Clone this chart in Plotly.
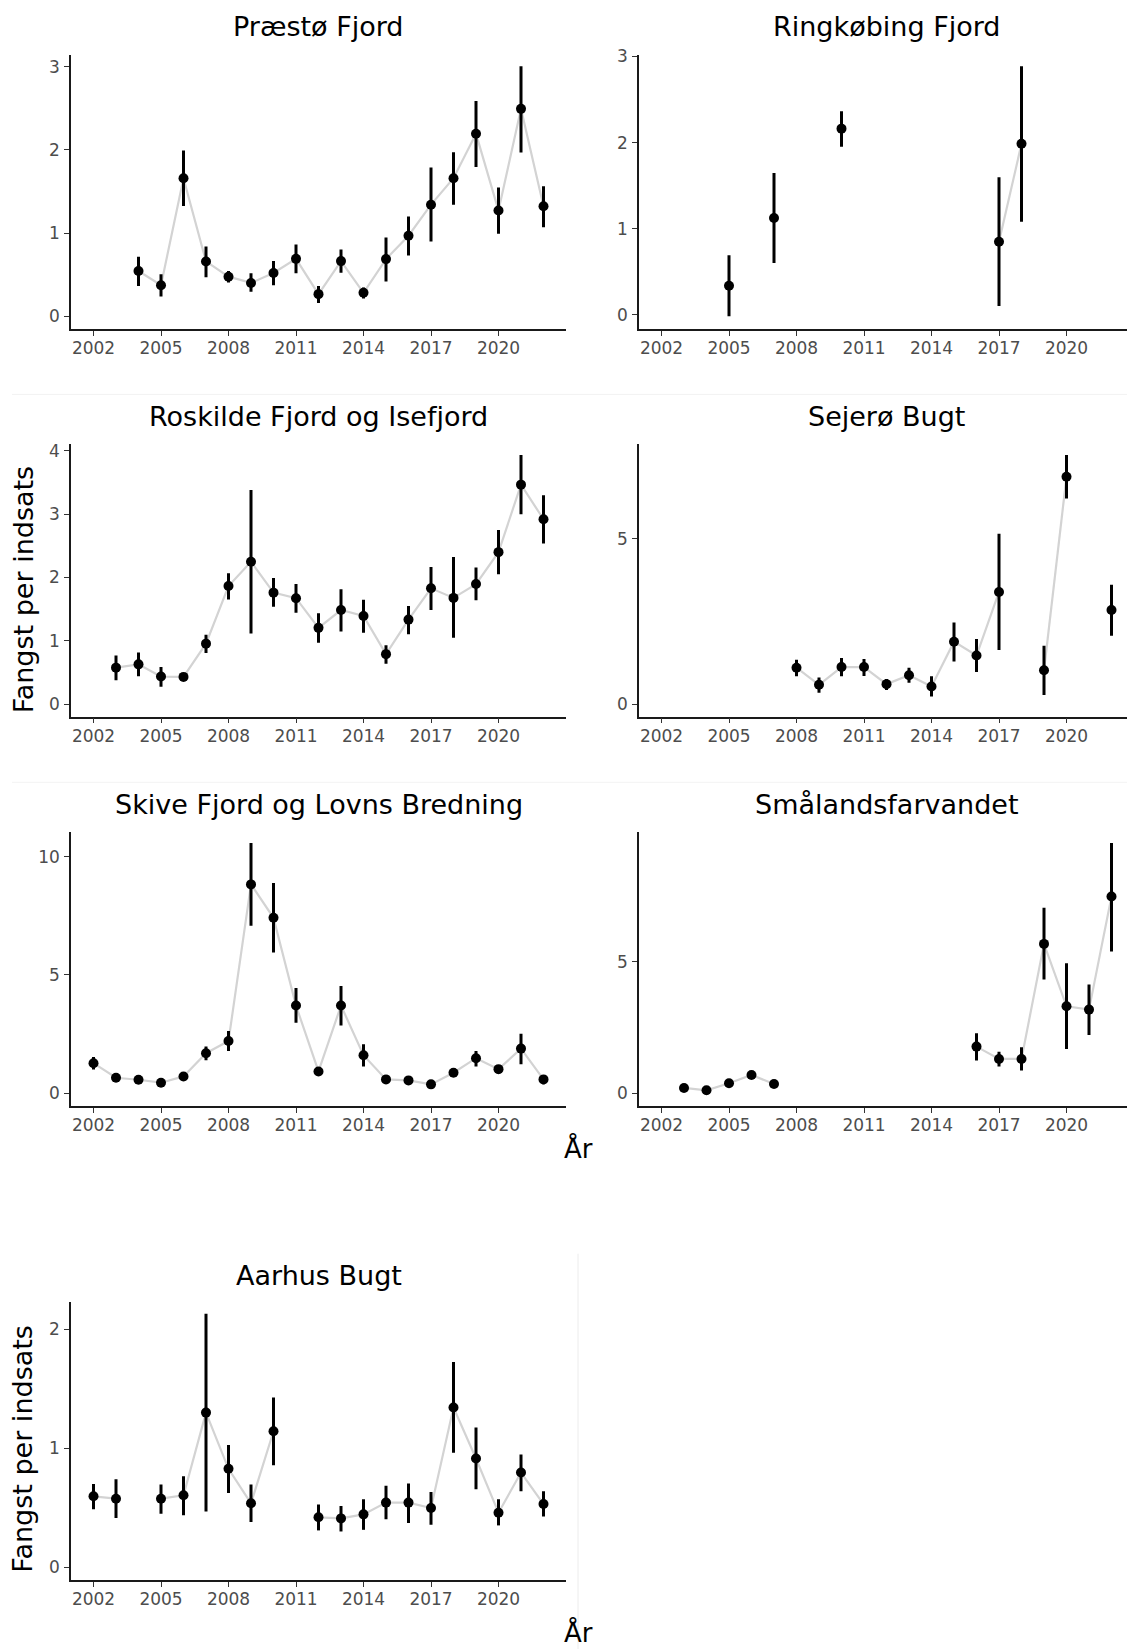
import plotly.graph_objects as go

# ---------------- data ----------------
titles = ["Præstø Fjord", "Ringkøbing Fjord", "Roskilde Fjord og Isefjord",
          "Sejerø Bugt", "Skive Fjord og Lovns Bredning", "Smålandsfarvandet", "Aarhus Bugt"]

praesto_years = [2004, 2005, 2006, 2007, 2008, 2009, 2010, 2011, 2012, 2013, 2014, 2015, 2016, 2017, 2018, 2019, 2020, 2021, 2022]
praesto_val = [0.544, 0.373, 1.659, 0.659, 0.476, 0.401, 0.520, 0.690, 0.266, 0.663, 0.282, 0.687, 0.968, 1.341, 1.659, 2.194, 1.270, 2.492, 1.321]
praesto_lo = [0.365, 0.238, 1.325, 0.468, 0.405, 0.294, 0.373, 0.516, 0.159, 0.524, 0.214, 0.417, 0.730, 0.897, 1.341, 1.794, 0.992, 1.968, 1.071]
praesto_hi = [0.714, 0.504, 1.992, 0.837, 0.544, 0.516, 0.663, 0.861, 0.365, 0.802, 0.345, 0.948, 1.198, 1.786, 1.972, 2.587, 1.548, 3.004, 1.563]

ringk_years = [2005, 2007, 2010, 2017, 2018]
ringk_val = [0.339, 1.125, 2.162, 0.850, 1.986]
ringk_lo = [-0.015, 0.602, 1.952, 0.103, 1.083]
ringk_hi = [0.694, 1.647, 2.364, 1.597, 2.886]

roskilde_years = [2003, 2004, 2005, 2006, 2007, 2008, 2009, 2010, 2011, 2012, 2013, 2014, 2015, 2016, 2017, 2018, 2019, 2020, 2021, 2022]
roskilde_val = [0.577, 0.629, 0.436, 0.431, 0.956, 1.865, 2.249, 1.761, 1.673, 1.205, 1.486, 1.392, 0.790, 1.335, 1.829, 1.678, 1.896, 2.400, 3.465, 2.919]
roskilde_lo = [0.379, 0.442, 0.275, 0.369, 0.810, 1.652, 1.117, 1.538, 1.444, 0.971, 1.148, 1.127, 0.639, 1.106, 1.486, 1.049, 1.642, 2.052, 2.997, 2.535]
roskilde_hi = [0.769, 0.816, 0.587, 0.483, 1.096, 2.068, 3.382, 1.990, 1.896, 1.434, 1.813, 1.647, 0.930, 1.548, 2.166, 2.322, 2.156, 2.748, 3.932, 3.299]

sejero_years = [2008, 2009, 2010, 2011, 2012, 2013, 2014, 2015, 2016, 2017, 2019, 2020, 2022]
sejero_val = [1.103, 0.586, 1.123, 1.123, 0.606, 0.875, 0.537, 1.889, 1.471, 3.390, 1.024, 6.869, 2.843]
sejero_lo = [0.845, 0.348, 0.845, 0.855, 0.427, 0.646, 0.229, 1.292, 0.974, 1.640, 0.278, 6.213, 2.068]
sejero_hi = [1.342, 0.805, 1.392, 1.362, 0.765, 1.103, 0.845, 2.465, 1.968, 5.149, 1.769, 7.525, 3.608]

skive_years = [2002, 2003, 2004, 2005, 2006, 2007, 2008, 2009, 2010, 2011, 2012, 2013, 2014, 2015, 2016, 2017, 2018, 2019, 2020, 2021, 2022]
skive_val = [1.273, 0.657, 0.573, 0.448, 0.713, 1.692, 2.210, 8.825, 7.413, 3.706, 0.923, 3.706, 1.608, 0.587, 0.545, 0.378, 0.867, 1.483, 1.021, 1.888, 0.587]
skive_lo = [1.007, 0.560, 0.420, 0.380, 0.540, 1.399, 1.790, 7.077, 5.944, 2.979, 0.850, 2.867, 1.133, 0.500, 0.470, 0.320, 0.750, 1.133, 0.920, 1.231, 0.378]
skive_hi = [1.538, 0.770, 0.750, 0.520, 0.900, 1.972, 2.629, 10.573, 8.881, 4.448, 1.000, 4.531, 2.070, 0.680, 0.630, 0.450, 0.980, 1.790, 1.120, 2.517, 0.769]

smaal_years = [2003, 2004, 2005, 2006, 2007, 2016, 2017, 2018, 2019, 2020, 2021, 2022]
smaal_val = [0.203, 0.114, 0.380, 0.696, 0.354, 1.772, 1.304, 1.304, 5.671, 3.304, 3.177, 7.468]
smaal_lo = [0.150, 0.070, 0.320, 0.620, 0.300, 1.241, 1.013, 0.861, 4.316, 1.684, 2.215, 5.380]
smaal_hi = [0.260, 0.160, 0.440, 0.770, 0.410, 2.278, 1.582, 1.747, 7.038, 4.937, 4.127, 9.500]

aarhus_years = [2002, 2003, 2005, 2006, 2007, 2008, 2009, 2010, 2012, 2013, 2014, 2015, 2016, 2017, 2018, 2019, 2020, 2021, 2022]
aarhus_val = [0.597, 0.577, 0.577, 0.606, 1.301, 0.828, 0.538, 1.144, 0.420, 0.411, 0.445, 0.544, 0.544, 0.499, 1.344, 0.915, 0.459, 0.797, 0.532]
aarhus_lo = [0.487, 0.414, 0.451, 0.437, 0.470, 0.625, 0.380, 0.859, 0.310, 0.301, 0.315, 0.403, 0.372, 0.358, 0.963, 0.656, 0.352, 0.639, 0.428]
aarhus_hi = [0.701, 0.741, 0.696, 0.766, 2.132, 1.028, 0.696, 1.428, 0.527, 0.515, 0.572, 0.685, 0.704, 0.634, 1.727, 1.175, 0.572, 0.949, 0.639]

x_tick_vals = [2002, 2005, 2008, 2011, 2014, 2017, 2020]
x_tick_text = ["2002", "2005", "2008", "2011", "2014", "2017", "2020"]
y_dticks = [1, 1, 1, 5, 5, 5, 1]
y_label = "Fangst per indsats"
x_label = "År"

panels = [
    (praesto_years, praesto_val, praesto_lo, praesto_hi),
    (ringk_years, ringk_val, ringk_lo, ringk_hi),
    (roskilde_years, roskilde_val, roskilde_lo, roskilde_hi),
    (sejero_years, sejero_val, sejero_lo, sejero_hi),
    (skive_years, skive_val, skive_lo, skive_hi),
    (smaal_years, smaal_val, smaal_lo, smaal_hi),
    (aarhus_years, aarhus_val, aarhus_lo, aarhus_hi),
]

# ---------------- layout geometry (page pixels) ----------------
W, H = 1135, 1649
DX, DY = 8, 12.5   # page offset of the plot div
col_px = [(71, 566), (639, 1134)]
row_px = [(50.7, 326), (441.7, 716), (831.7, 1107.3), (1305, 1584)]
title_y = [22, 414, 804, 1278]

def px_x(v):
    return (v - DX) / W

def px_y(v):
    return 1 - (v - DY) / H

FONT = "DejaVu Sans"
fig = go.Figure()
layout = dict(
    width=W, height=H, margin=dict(l=0, r=0, t=0, b=0),
    paper_bgcolor="white", plot_bgcolor="white", showlegend=False,
    font=dict(family=FONT),
)
annotations = []
shapes = []

for i, (yrs, val, lo, hi) in enumerate(panels):
    r, c = divmod(i, 2)
    k = "" if i == 0 else str(i + 1)
    xa, ya = "x" + k, "y" + k

    # gray connecting line, broken where years are missing
    lx, ly = [], []
    for j, (yy, vv) in enumerate(zip(yrs, val)):
        if j > 0 and yy - yrs[j - 1] > 1:
            lx.append(None)
            ly.append(None)
        lx.append(yy)
        ly.append(vv)
    fig.add_trace(go.Scatter(x=lx, y=ly, mode="lines", xaxis=xa, yaxis=ya,
                             line=dict(color="#d3d3d3", width=2.2), hoverinfo="skip",
                             connectgaps=False))
    fig.add_trace(go.Scatter(
        x=yrs, y=val, mode="markers", xaxis=xa, yaxis=ya,
        marker=dict(color="black", size=10),
        error_y=dict(type="data", symmetric=False,
                     array=[h - v for h, v in zip(hi, val)],
                     arrayminus=[v - l for v, l in zip(val, lo)],
                     color="black", thickness=3, width=0)))

    ymin = min(0, min(lo))
    ymax = max(hi)
    pad = 0.045 * (ymax - ymin)
    x0, x1 = col_px[c]
    top, bot = row_px[r]
    axis_common = dict(showline=True, linecolor="#1a1a1a", linewidth=1.6,
                       ticks="outside", ticklen=5, tickwidth=1.2, tickcolor="#333333",
                       tickfont=dict(family=FONT, size=17, color="#4d4d4d"),
                       showgrid=False, zeroline=False)
    layout["xaxis" + k] = dict(axis_common, domain=[px_x(x0), px_x(x1)], anchor=ya,
                               range=[2001, 2023], tickvals=x_tick_vals, ticktext=x_tick_text,
                               ticklabelstandoff=-2)
    layout["yaxis" + k] = dict(axis_common, domain=[px_y(bot), px_y(top)], anchor=xa,
                               range=[ymin - 0.05 * (ymax - ymin), ymax + pad],
                               tick0=0, dtick=y_dticks[i], ticklabelstandoff=1)
    annotations.append(dict(text=titles[i], x=px_x((x0 + x1) / 2), y=px_y(title_y[r]),
                            xref="paper", yref="paper", xanchor="center", yanchor="middle",
                            showarrow=False, font=dict(family=FONT, size=27, color="black")))

# axis titles
for yc in [588, 1452]:
    annotations.append(dict(text=y_label, x=px_x(23), y=px_y(yc), xref="paper", yref="paper",
                            xanchor="center", yanchor="middle", textangle=-90, showarrow=False,
                            font=dict(family=FONT, size=27, color="black")))
for yc in [1150, 1637]:
    annotations.append(dict(text=x_label, x=px_x(578), y=px_y(yc), xref="paper", yref="paper",
                            xanchor="center", yanchor="middle", showarrow=False,
                            font=dict(family=FONT, size=26, color="black")))

# faint image-seam lines
for yl in [392, 782]:
    shapes.append(dict(type="line", xref="paper", yref="paper", x0=px_x(12), x1=1,
                       y0=px_y(yl), y1=px_y(yl), line=dict(color="#f3f3f3", width=1)))
shapes.append(dict(type="line", xref="paper", yref="paper", x0=px_x(578), x1=px_x(578),
                   y0=px_y(1256), y1=0, line=dict(color="#ececec", width=1)))

layout["annotations"] = annotations
layout["shapes"] = shapes
fig.update_layout(**layout)
fig.write_html("out.html")
